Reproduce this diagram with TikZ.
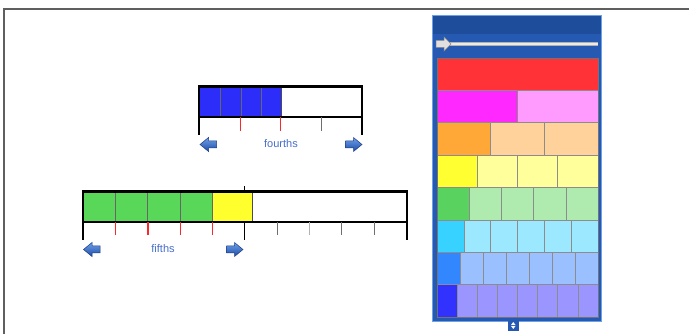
\documentclass[tikz,border=0pt]{standalone}
\usepackage{fontspec}
\setmainfont{Liberation Sans}
\definecolor{frameg}{RGB}{95,95,95}
\definecolor{panelbg}{RGB}{38,90,178}
\definecolor{panelhd}{RGB}{30,78,155}
\definecolor{panelrim}{RGB}{110,160,230}
\definecolor{labelblue}{RGB}{70,110,205}
\definecolor{arrtop}{RGB}{110,160,235}
\definecolor{arrbot}{RGB}{30,75,165}
\definecolor{arredge}{RGB}{30,60,130}
\definecolor{tickred}{RGB}{250,40,40}
\definecolor{tickgray}{RGB}{110,110,110}
\definecolor{barblue}{RGB}{45,45,250}
\definecolor{bargreen}{RGB}{88,215,88}
\definecolor{baryellow}{RGB}{255,255,45}
% panel row colours (dark / light)
\definecolor{r1d}{RGB}{255,50,55}\definecolor{r1l}{RGB}{255,50,55}
\definecolor{r2d}{RGB}{255,40,255}\definecolor{r2l}{RGB}{255,155,255}
\definecolor{r3d}{RGB}{255,168,55}\definecolor{r3l}{RGB}{255,210,155}
\definecolor{r4d}{RGB}{255,255,50}\definecolor{r4l}{RGB}{255,255,155}
\definecolor{r5d}{RGB}{90,210,95}\definecolor{r5l}{RGB}{175,235,175}
\definecolor{r6d}{RGB}{55,210,255}\definecolor{r6l}{RGB}{155,232,255}
\definecolor{r7d}{RGB}{50,135,255}\definecolor{r7l}{RGB}{155,192,255}
\definecolor{r8d}{RGB}{50,50,255}\definecolor{r8l}{RGB}{155,150,255}
\tikzset{
  barframe/.style={draw=black, line width=2.5pt},
  redtick/.style={draw=tickred, line width=1.2pt},
  graytick/.style={draw=tickgray, line width=1pt},
  endtick/.style={draw=black, line width=1.5pt},
  navarrow/.style={top color=arrtop, bottom color=arrbot, draw=arredge, line width=0.5pt},
  barlabel/.style={text=labelblue, font=\fontsize{11}{12}\selectfont, inner sep=0pt},
  panelcell/.style={draw=black!45, line width=0.6pt},
}
\begin{document}
\begin{tikzpicture}[x=1pt,y=-1pt]
\useasboundingbox (0,0) rectangle (689,334);
\fill[white] (0,0) rectangle (689,334);
% outer frame (top and left only)
\draw[frameg, line width=1.6pt] (4,334) -- (4,9) -- (689,9);

% ---------- fourths bar ----------
\fill[barblue] (199,86.5) rectangle (281.5,117);
\foreach \x in {220.5,241,261.2}{\draw[draw=black!60, line width=0.7pt] (\x,86.5) -- (\x,117);}
\draw[draw=black!70, line width=0.8pt] (281.5,86.5) -- (281.5,117);
\draw[barframe] (199,86.5) rectangle (362,117);
\draw[endtick] (199,117) -- (199,135);
\draw[endtick] (362,117) -- (362,135);
\draw[redtick] (240.7,117) -- (240.7,131);
\draw[redtick] (280.7,117) -- (280.7,131);
\draw[graytick] (321.5,117) -- (321.5,131);
\node[barlabel] (lbl4) at (281,144) {fourths};
\draw[navarrow] (200,144.5) -- (208.5,137.5) -- (208.5,141) -- (216.5,141) -- (216.5,148) -- (208.5,148) -- (208.5,151.5) -- cycle;
\draw[navarrow] (362,144.5) -- (353.5,137.5) -- (353.5,141) -- (345.5,141) -- (345.5,148) -- (353.5,148) -- (353.5,151.5) -- cycle;

% ---------- fifths bar ----------
\fill[bargreen] (83,191.5) rectangle (212.8,222);
\fill[baryellow] (212.8,191.5) rectangle (252.5,222);
\foreach \x in {115.3,147.6,180}{\draw[draw=black!60, line width=0.7pt] (\x,191.5) -- (\x,222);}
\draw[draw=black!60, line width=0.7pt] (212.8,191.5) -- (212.8,222);
\draw[draw=black!70, line width=0.8pt] (252.5,191.5) -- (252.5,222);
\draw[barframe] (83,191.5) rectangle (407,222);
\draw[endtick] (83,222) -- (83,240);
\draw[endtick] (407,222) -- (407,240);
\draw[endtick] (244.5,222) -- (244.5,240);
\draw[endtick] (244.5,186.5) -- (244.5,191.5);
\foreach \x in {115.5,148,180.3,212.5}{\draw[redtick] (\x,222) -- (\x,235);}
\foreach \x/\g in {277/tickgray,309.3/black!30,341.7/tickgray,374/tickgray}{\draw[draw=\g, line width=1pt] (\x,222) -- (\x,235);}
\node[barlabel] (lbl5) at (163,249) {fifths};
\draw[navarrow] (83.5,249.5) -- (92,242.5) -- (92,246) -- (100,246) -- (100,253) -- (92,253) -- (92,256.5) -- cycle;
\draw[navarrow] (243,249.5) -- (234.5,242.5) -- (234.5,246) -- (226.5,246) -- (226.5,253) -- (234.5,253) -- (234.5,256.5) -- cycle;

% ---------- fraction panel ----------
\draw[fill=panelbg, draw=panelrim, line width=1pt] (432.5,15.5) rectangle (601,321);
\fill[panelhd] (433,16) rectangle (600.5,34);
% slider
\draw[draw=black!30, line width=3.2pt] (450,44) -- (598,44);
\draw[draw=white!92!black, line width=2pt] (450,44) -- (598,44);
\draw[fill=black!12, draw=black!45, line width=0.5pt] (436,40.5) -- (444,40.5) -- (444,37) -- (451,44) -- (444,51) -- (444,47.5) -- (436,47.5) -- cycle;
% rows
\foreach \i in {1,...,8}{
  \pgfmathsetmacro{\yt}{58+(\i-1)*32.4}
  \pgfmathsetmacro{\yb}{58+\i*32.4}
  \pgfmathsetmacro{\w}{161/\i}
  \foreach \k in {1,...,\i}{
    \pgfmathsetmacro{\xa}{437+(\k-1)*\w}
    \pgfmathsetmacro{\xb}{437+\k*\w}
    \ifnum\k=1
      \draw[panelcell, fill=r\i d] (\xa,\yt) rectangle (\xb,\yb);
    \else
      \draw[panelcell, fill=r\i l] (\xa,\yt) rectangle (\xb,\yb);
    \fi
  }
}
\draw[draw=black!55, line width=0.8pt] (437,58) rectangle (598,317.2);
% resize handle
\fill[panelbg] (508,320.5) rectangle (518.5,330.5);
\fill[white] (513.25,322) -- (515.5,325) -- (511,325) -- cycle;
\fill[white] (513.25,329) -- (515.5,326) -- (511,326) -- cycle;
\end{tikzpicture}
\end{document}
